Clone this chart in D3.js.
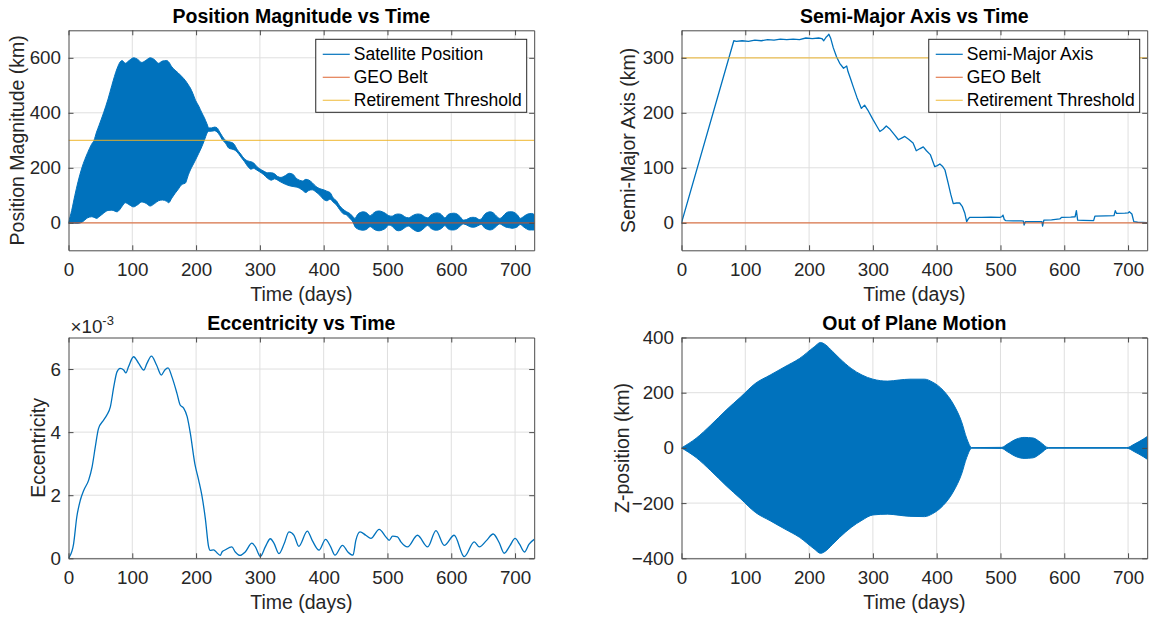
<!DOCTYPE html>
<html>
<head>
<meta charset="utf-8">
<script src="https://cdn.jsdelivr.net/npm/d3@7"></script>
<style>
  body { margin: 0; background: #fff; }
  svg text { font-family: "Liberation Sans", Arial, Helvetica, sans-serif; fill: #262626; }
</style>
</head>
<body>
<div id="chart"></div>
<script>
// ---- data ----
var xTicks = [0, 100, 200, 300, 400, 500, 600, 700];
var posTicks = [0, 200, 400, 600];
var smaTicks = [0, 100, 200, 300];
var eccTicks = [0, 2, 4, 6];
var zTicks = [-400, -200, 0, 200, 400];

var geoBelt = 0;
var retirementThreshold = 300;

var posLegend = ['Satellite Position', 'GEO Belt', 'Retirement Threshold'];
var smaLegend = ['Semi-Major Axis', 'GEO Belt', 'Retirement Threshold'];

// position magnitude: upper / lower envelope of the fast oscillation (km)
var posDays = [0, 5, 10, 15, 21, 30, 36, 40, 44, 48, 55, 62, 68, 76, 81, 84, 89, 95, 102, 108, 115, 122, 128, 135, 141, 147, 154, 157, 162, 167, 172, 178, 183, 188, 191, 195, 199, 204, 209, 213, 217, 220,
  224, 229, 233, 237, 241, 246, 251, 256, 260, 264, 270, 276, 281, 286, 290, 295, 300, 306, 312, 318, 323, 328, 333, 340, 346, 352, 357, 362, 367, 372, 377, 382, 388, 394, 400, 405, 410, 415, 420, 425, 430, 436, 441, 446, 449,
  453, 458, 462, 467, 473, 478, 483, 487, 492, 497, 502, 507, 512, 517, 522, 527, 533, 538, 543, 548, 553, 558, 563, 568, 573, 577, 582, 587, 590, 595, 600, 604, 609, 614, 619, 624, 629, 634, 639, 644, 647, 652, 657, 661, 666, 671, 676, 681, 686, 691, 695, 700, 704, 708, 713, 718, 722, 726, 730];
var posUpper = [2, 45, 100, 150, 200, 255, 285, 300, 330, 355, 400, 450, 500, 560, 585, 590, 580, 590, 600, 595, 583, 592, 600, 593, 580, 588, 590, 585, 567, 555, 545, 531, 518, 501, 490, 470, 446, 425, 400, 382, 360, 345,
  345, 348, 345, 330, 315, 300, 295, 292, 285, 268, 250, 232, 225, 222, 218, 205, 196, 188, 182, 182, 178, 168, 165, 172, 180, 176, 162, 155, 152, 158, 155, 146, 132, 124, 120, 115, 110, 90, 80, 62, 50, 40, 34, 22, 16,
  30, 38, 40, 37, 26, 35, 42, 43, 40, 34, 26, 24, 30, 32, 30, 22, 18, 24, 30, 32, 30, 22, 18, 28, 34, 36, 34, 24, 18, 30, 34, 35, 32, 22, 10, 12, 18, 20, 18, 12, 14, 30, 38, 40, 36, 24, 16, 24, 36, 40, 40, 36, 28, 16, 22, 30, 33, 34, 30];
var posLower = [0, -1, -2, -2, 2, 18, 22, 20, 16, 22, 35, 45, 46, 40, 50, 60, 73, 66, 58, 65, 76, 70, 61, 70, 80, 83, 78, 73, 90, 107, 122, 140, 144, 175, 192, 210, 228, 252, 277, 300, 325, 333,
  333, 335, 330, 318, 302, 290, 272, 268, 265, 258, 240, 222, 205, 195, 198, 192, 185, 175, 162, 155, 160, 155, 148, 140, 135, 132, 130, 126, 118, 110, 118, 120, 112, 100, 85, 80, 86, 75, 65, 48, 34, 28, 16, 2, -14,
  -22, -26, -27, -24, -14, -22, -28, -29, -26, -20, -8, -12, -24, -29, -26, -18, -12, -20, -28, -32, -28, -18, -10, -20, -26, -27, -24, -16, -10, -22, -26, -26, -22, -12, -4, -8, -14, -16, -14, -8, -6, -18, -24, -26, -22, -12, -4, -10, -16, -18, -20, -18, -14, -6, -14, -22, -26, -26, -26];

// semi-major axis offset (km)
var smaDays = [0, 82, 86, 95, 105, 115, 125, 135, 145, 155, 165, 175, 185, 195, 205, 215, 220, 223, 227, 229, 231, 234, 238, 243, 248, 254, 259, 261, 265, 269, 275, 282, 287, 292, 300, 306, 311, 316, 321, 327, 334, 340, 345, 350, 356, 363, 368, 374, 379, 384, 390, 397, 401, 405, 409, 413, 418, 422, 426, 431, 436, 440, 444, 447, 450, 452, 470, 485, 499, 502, 504, 506, 508, 520, 533, 536, 537, 539, 550, 565, 566, 568, 580, 593, 596, 610, 617, 619, 621, 630, 646, 648, 665, 678, 680, 682, 695, 700, 702, 706, 709, 715, 730];
var smaValues = [0, 331, 330, 331, 330, 332, 331, 333, 332, 334, 333, 334, 333, 336, 335, 336, 335, 331, 338, 340, 343, 335, 318, 302, 290, 281, 285, 275, 262, 248, 228, 208, 214, 205, 188, 176, 166, 170, 176, 170, 160, 151, 154, 157, 152, 145, 131, 135, 138, 131, 124, 102, 104, 107, 103, 96, 72, 52, 35, 36, 36, 30, 18, 2, 8, 10, 10, 10.5, 10, 11, 14, 6, 4, 3.5, 3.5, 3, -4, 2, 2, 2, -6, 5, 5.5, 7, 10, 10.5, 11, 22, 5, 4.5, 4, 12, 12.5, 13, 22, 17, 17.5, 18, 20, 16, 2, 1, 0.5];

// eccentricity (x 10^-3)
var eccDays = [0, 1.3, 8, 13, 18.5, 24, 31.6, 37, 42, 47, 55, 60, 65.6, 71, 76, 81, 86.5, 90, 94, 102, 110, 118, 123, 130, 138, 145.5, 151, 156, 162, 170, 175, 180.5, 186, 191, 198, 204, 209, 214.5, 219.7, 222, 227.5, 233, 238, 240.6, 246, 256, 261.5, 269, 277, 287.6, 293, 300.7, 308.5, 316.4, 322, 330, 338, 345.6, 353.5, 361, 374.4, 382, 392.7, 403, 411, 417.7, 429.5, 438, 446, 450.4, 457, 466, 474, 487, 497.4, 502.6, 508, 515.7, 521, 531.4, 547, 563, 576, 589, 604.6, 620.3, 636, 644, 655, 665.7, 675, 683, 692, 700, 707, 714.7, 722, 730];
var eccValues = [0, 0.04, 0.46, 1.31, 1.84, 2.16, 2.48, 2.9, 3.53, 4.11, 4.38, 4.54, 4.8, 5.44, 5.91, 6.02, 5.97, 5.88, 6.07, 6.39, 6.18, 5.97, 6.18, 6.41, 6.13, 5.81, 5.97, 6.04, 5.76, 5.23, 4.86, 4.76, 4.49, 3.96, 3.0, 2.48, 2.0, 1.26, 0.36, 0.25, 0.27, 0.17, 0.09, 0.2, 0.27, 0.36, 0.2, 0.09, 0.2, 0.48, 0.36, 0.06, 0.36, 0.62, 0.48, 0.15, 0.46, 0.84, 0.73, 0.38, 0.86, 0.57, 0.26, 0.6, 0.36, 0.1, 0.41, 0.2, 0.1, 0.57, 0.84, 0.73, 0.63, 0.92, 0.68, 0.57, 0.7, 0.68, 0.52, 0.36, 0.73, 0.36, 0.88, 0.41, 0.73, 0.05, 0.52, 0.36, 0.56, 0.77, 0.5, 0.16, 0.4, 0.63, 0.45, 0.2, 0.45, 0.6];

// out of plane z: envelope of the oscillation (km)
var zDays = [0, 23, 46, 70, 93, 116, 139, 162, 185, 208, 218, 225, 237, 248, 266, 283, 300, 323, 341, 358, 381, 393, 410, 427, 439, 447, 455, 502, 511, 525, 537, 551, 563, 575, 698, 710, 724, 730];
var zUpper = [0, 35, 83, 137, 185, 234, 264, 294, 324, 366, 382, 375, 349, 324, 288, 264, 249, 242, 246, 249, 249, 239, 209, 155, 95, 35, 1, 2, 14, 32, 38, 36, 20, 1, 1, 14, 32, 41];
var zLower = [0, -35, -83, -137, -185, -234, -264, -294, -324, -366, -382, -375, -349, -324, -288, -262, -243, -240, -244, -248, -249, -239, -209, -155, -95, -35, -1, -2, -14, -32, -38, -36, -20, -1, -1, -14, -32, -41];

// ---- drawing ----
var blue = '#0072BD', orange = '#D95319', yellow = '#EDB120';
var tickFont = 18.8, labelFont = 19.5, legendFont = 17.5;

var svg = d3.select('#chart')
    .append('svg')
    .attr('width', 1151)
    .attr('height', 618);

var clipId = 0;

function panel(p) {
    var g = svg.append('g').attr('transform', 'translate(' + p.left + ',' + p.top + ')');
    var x = d3.scaleLinear().domain([0, 730]).range([0, p.w]);
    var y = d3.scaleLinear().domain(p.yDomain).range([p.h, 0]);
    var fmt = d3.format('d');

    // grid
    var grid = g.append('g').attr('stroke', '#dfdfdf').attr('stroke-width', 1);
    grid.selectAll('.vx').data(xTicks.slice(1)).enter().append('line')
        .attr('x1', function (d) { return x(d); }).attr('x2', function (d) { return x(d); })
        .attr('y1', 0).attr('y2', p.h);
    grid.selectAll('.hy').data(p.yTicks).enter().append('line')
        .attr('y1', function (d) { return y(d); }).attr('y2', function (d) { return y(d); })
        .attr('x1', 0).attr('x2', p.w);

    // data, clipped to the axes
    clipId++;
    g.append('clipPath').attr('id', 'clip' + clipId)
        .append('rect').attr('width', p.w).attr('height', p.h);
    var plot = g.append('g').attr('clip-path', 'url(#clip' + clipId + ')');
    p.draw(plot, x, y);

    // box with inward ticks on all four sides
    function styleAxis(a) {
        a.attr('font-size', null).attr('font-family', null).attr('color', '#4a4a4a');
        a.selectAll('text').style('font-size', tickFont + 'px');
    }
    g.append('g').attr('transform', 'translate(0,' + p.h + ')')
        .call(d3.axisBottom(x).tickValues(xTicks).tickSizeInner(-5).tickSizeOuter(0).tickPadding(12.5).tickFormat(fmt))
        .call(styleAxis);
    g.append('g')
        .call(d3.axisTop(x).tickValues(xTicks).tickSizeInner(-5).tickSizeOuter(0).tickFormat(''))
        .call(styleAxis);
    g.append('g')
        .call(d3.axisLeft(y).tickValues(p.yTicks).tickSizeInner(-5).tickSizeOuter(0).tickPadding(7.5).tickFormat(fmt))
        .call(styleAxis);
    g.append('g').attr('transform', 'translate(' + p.w + ',0)')
        .call(d3.axisRight(y).tickValues(p.yTicks).tickSizeInner(-5).tickSizeOuter(0).tickFormat(''))
        .call(styleAxis);

    // title and labels
    g.append('text').attr('x', p.w / 2).attr('y', p.titleY)
        .attr('text-anchor', 'middle').style('font-size', labelFont + 'px')
        .style('font-weight', 'bold').style('fill', '#000').text(p.title);
    g.append('text').attr('x', p.w / 2).attr('y', p.h + 50.7)
        .attr('text-anchor', 'middle').style('font-size', labelFont + 'px').text('Time (days)');
    g.append('text')
        .attr('transform', 'translate(' + p.ylabelX + ',' + (p.h / 2) + ') rotate(-90)')
        .attr('text-anchor', 'middle').attr('dy', '0.35em')
        .style('font-size', labelFont + 'px').text(p.ylabel);

    if (p.legend) legend(g, p.w, p.legend);
    return g;
}

function hlines(plot, x, y) {
    [[geoBelt, orange], [retirementThreshold, yellow]].forEach(function (l) {
        plot.append('line')
            .attr('x1', x(0)).attr('x2', x(730))
            .attr('y1', y(l[0])).attr('y2', y(l[0]))
            .attr('stroke', l[1]).attr('stroke-width', 1.2).attr('stroke-opacity', 0.75);
    });
}

function legend(g, w, labels) {
    var colors = [blue, orange, yellow];
    var lg = g.append('g');
    var box = lg.append('rect').attr('y', 9).attr('height', 73)
        .attr('fill', '#fff').attr('stroke', '#262626').attr('stroke-width', 1);
    var maxW = 0;
    var items = lg.selectAll('.item').data(labels).enter().append('g')
        .attr('transform', function (d, i) { return 'translate(0,' + (24 + i * 23) + ')'; });
    items.append('line').attr('x1', 7).attr('x2', 34)
        .attr('stroke', function (d, i) { return colors[i]; })
        .attr('stroke-width', 1.2)
        .attr('stroke-opacity', function (d, i) { return i ? 0.75 : 1; });
    items.append('text').attr('x', 38).attr('dy', '0.35em')
        .style('font-size', legendFont + 'px').style('fill', '#000')
        .text(function (d) { return d; })
        .each(function () { maxW = Math.max(maxW, this.getComputedTextLength()); });
    var bw = 38 + maxW + 5;
    box.attr('width', bw);
    lg.attr('transform', 'translate(' + (w - 7.5 - bw) + ',0)');
}

function band(days, upper, lower) {
    return function (plot, x, y) {
        var rows = days.map(function (d, i) { return { t: d, hi: upper[i], lo: lower[i] }; });
        plot.append('path').datum(rows)
            .attr('fill', blue).attr('stroke', blue).attr('stroke-width', 1)
            .attr('d', d3.area().curve(d3.curveMonotoneX)
                .x(function (d) { return x(d.t); })
                .y0(function (d) { return y(d.lo); })
                .y1(function (d) { return y(d.hi); }));
    };
}

function trace(days, values, width, curve) {
    return function (plot, x, y) {
        plot.append('path').datum(days.map(function (d, i) { return [d, values[i]]; }))
            .attr('fill', 'none').attr('stroke', blue).attr('stroke-width', width)
            .attr('stroke-linejoin', 'round')
            .attr('d', d3.line().curve(curve)
                .x(function (d) { return x(d[0]); })
                .y(function (d) { return y(d[1]); }));
    };
}

var W = 465.7;

panel({
    left: 68.5, top: 30.3, w: W, h: 220, yDomain: [-100, 700], yTicks: posTicks,
    title: 'Position Magnitude vs Time', titleY: -7.5, ylabel: 'Position Magnitude (km)', ylabelX: -51.5,
    legend: posLegend,
    draw: function (plot, x, y) { band(posDays, posUpper, posLower)(plot, x, y); hlines(plot, x, y); }
});

panel({
    left: 681.5, top: 30.3, w: W, h: 220, yDomain: [-50, 350], yTicks: smaTicks,
    title: 'Semi-Major Axis vs Time', titleY: -7.5, ylabel: 'Semi-Major Axis (km)', ylabelX: -53,
    legend: smaLegend,
    draw: function (plot, x, y) { trace(smaDays, smaValues, 1.3, d3.curveLinear)(plot, x, y); hlines(plot, x, y); }
});

var ecc = panel({
    left: 68.5, top: 337.5, w: W, h: 220.8, yDomain: [0, 7], yTicks: eccTicks,
    title: 'Eccentricity vs Time', titleY: -7.5, ylabel: 'Eccentricity', ylabelX: -30,
    draw: trace(eccDays, eccValues, 1.3, d3.curveMonotoneX)
});
var expo = ecc.append('text').attr('x', 2).attr('y', -4.5).style('font-size', tickFont + 'px');
expo.append('tspan').text('\u00d710');
expo.append('tspan').attr('dy', -8).style('font-size', '13px').text('-3');

panel({
    left: 681.5, top: 337.5, w: W, h: 220.8, yDomain: [-400, 400], yTicks: zTicks,
    title: 'Out of Plane Motion', titleY: -7.5, ylabel: 'Z-position (km)', ylabelX: -59.5,
    draw: band(zDays, zUpper, zLower)
});
</script>
</body>
</html>
